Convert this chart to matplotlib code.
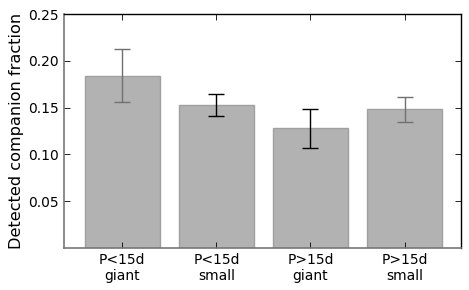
import matplotlib
matplotlib.use('Agg')

import numpy as np
import matplotlib.pyplot as plt

# -------------------------
# Data
# -------------------------
categories = ["P<15d\ngiant", "P<15d\nsmall", "P>15d\ngiant", "P>15d\nsmall"]
fraction = [0.184, 0.153, 0.128, 0.148]
err_low = [0.028, 0.012, 0.021, 0.013]
err_high = [0.029, 0.012, 0.021, 0.013]
err_colors = ["#707070", "black", "black", "#707070"]

# -------------------------
# Plot
# -------------------------
fig = plt.figure(figsize=(4.69, 2.90), dpi=100)
ax = fig.add_axes([64 / 469, 1 - 248 / 290, 397 / 469, 234 / 290])

x = np.arange(len(categories))
ax.bar(x, fraction, width=0.8, color="#b2b2b2", edgecolor="#a0a0a0", linewidth=1.0)

for xi, f, lo, hi, c in zip(x, fraction, err_low, err_high, err_colors):
    ax.errorbar(xi, f, yerr=[[lo], [hi]], fmt="none", ecolor=c,
                elinewidth=1.0, capsize=6, capthick=1.0)

ax.set_xlim(-0.62, 3.6)
ax.set_ylim(0, 0.25)
ax.set_yticks([0.05, 0.10, 0.15, 0.20, 0.25])
ax.set_xticks(x)
ax.set_xticklabels(categories, fontsize=10, linespacing=1.15)
ax.tick_params(axis="y", labelsize=10)
ax.tick_params(direction="in", top=True, right=True, length=4, width=0.6)
ax.set_ylabel("Detected companion fraction", fontsize=11.6, labelpad=3)

for side in ["left", "bottom"]:
    ax.spines[side].set_color("#777777")
    ax.spines[side].set_linewidth(1.2)
for side in ["top", "right"]:
    ax.spines[side].set_linewidth(1.0)

fig.savefig("out.png", dpi=100)
